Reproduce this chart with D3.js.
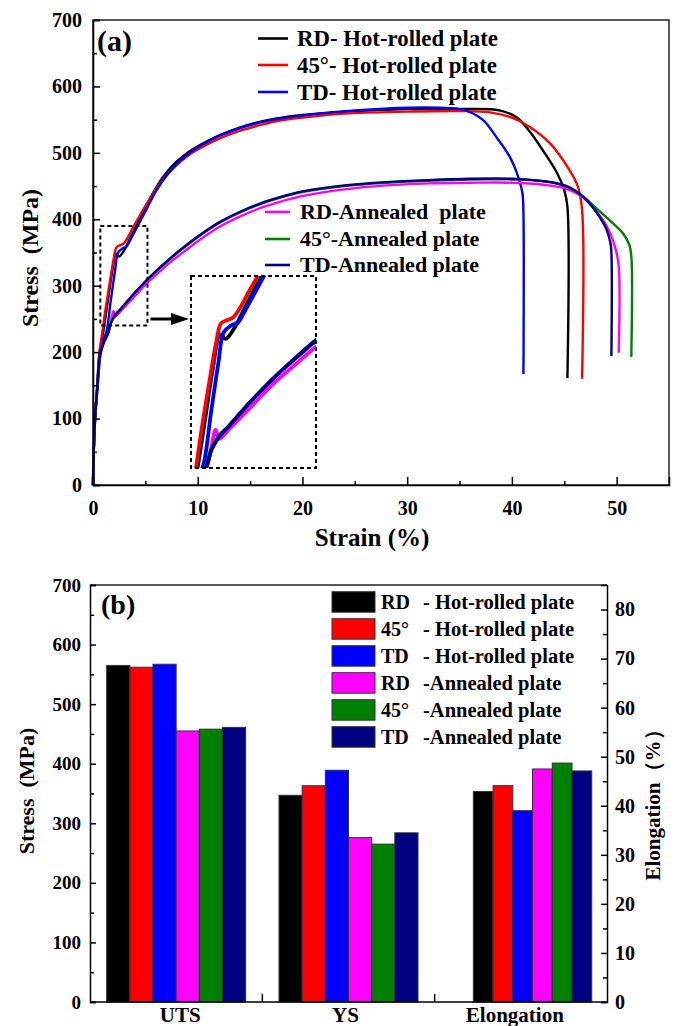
<!DOCTYPE html>
<html lang="en">
<head>
<meta charset="UTF-8">
<script src="https://cdn.jsdelivr.net/npm/d3@7"></script>
<title>Tensile properties</title>
<style>
  body { margin: 0; background: #fff; }
  text { font-family: "Liberation Serif", "Times New Roman", serif; font-weight: bold; fill: #000; }
</style>
</head>
<body>
<svg width="675" height="1026"></svg>
<script>
// ---------- data ----------
const strainTicks = [0, 10, 20, 30, 40, 50];
const stressTicks = [0, 100, 200, 300, 400, 500, 600, 700];
const elongTicks = [0, 10, 20, 30, 40, 50, 60, 70, 80];

const colors = ['#000000', '#ff0000', '#0000ff', '#ff00ff', '#008000', '#000080'];
const curveLabels = ['RD- Hot-rolled plate', '45°- Hot-rolled plate', 'TD- Hot-rolled plate',
                     'RD-Annealed  plate', '45°-Annealed plate', 'TD-Annealed plate'];
const barDirs = ['RD', '45°', 'TD', 'RD', '45°', 'TD'];
const barConds = ['- Hot-rolled plate', '- Hot-rolled plate', '- Hot-rolled plate',
                  '-Annealed plate', '-Annealed plate', '-Annealed plate'];

// stress-strain curves [strain %, stress MPa]
const rdHot = [[0,0],[0.05,40],[0.19,100],[0.41,150],[0.62,200],[0.95,228],[1.4,275],[1.8,318],[2.2,348],[2.5,344],[2.8,349],[3.1,357],[3.5,370],[4.0,386],[4.4,398],
  [5,418],[6,447],[7,470],[8,487],[9,500],[10,510],[12,526],[14,538],[16,547],[18,553],[20,557],[24,562],[30,566],[35,566],
  [38.8,564],[40.5,553],[41.7,532],[42.9,505],[44.3,470],[45.0,444],[45.3,419],[45.3,161]];
const d45Hot = [[0,0],[0.05,40],[0.19,100],[0.41,150],[0.62,200],[0.87,228],[1.2,265],[1.6,305],[1.95,338],[2.25,358],[2.6,361],[2.9,363],[3.3,372],[3.8,387],[4.3,401],
  [5,420],[6,445],[7,466],[8,482],[9,495],[10,505],[12,521],[14,533],[16,542],[18,549],[20,553],[24,559],[30,562],[35,563],
  [37.9,561],[40,553],[41.7,539],[43.6,515],[45.5,474],[46.3,449],[46.7,414],[46.7,160]];
const tdHot = [[0,0],[0.05,40],[0.2,98],[0.45,148],[0.7,195],[1.0,218],[1.3,232],[1.7,278],[2.1,322],[2.4,350],[2.8,356],[3.2,359],[3.5,367],[4.0,382],[4.6,400],
  [5.2,418],[6,442],[7,465],[8,483],[9,497],[10,508],[12,525],[14,537],[16,546],[18,552],[20,556],[23.6,562],[30,568],[33,568],
  [35.3,565],[37.2,550],[38.5,524],[39.8,494],[40.6,464],[41.0,440],[41.1,410],[41.1,167]];
const rdAnn = [[0,0],[0.05,40],[0.2,100],[0.42,150],[0.65,192],[1.0,212],[1.45,228],[1.7,245],[1.95,262],[2.15,254],[2.6,261],[3.2,271],[3.8,281],[4.5,293],[5.3,306],
  [6.5,323],[7.5,337],[8.5,349],[10,367],[12,388],[14,404],[16,417],[18,427],[20,435],[24,445],[28,451],[32,454],[36,455],[40,455],
  [43,452],[45,447],[46.5,436],[47.5,422],[48.5,403],[49.3,382],[49.9,355],[50.2,330],[50.2,199]];
const d45Ann = [[0,0],[0.05,40],[0.2,100],[0.42,150],[0.65,194],[1.0,214],[1.45,230],[1.7,244],[1.95,252],[2.2,258],[2.6,264],[3.2,275],[3.8,286],[4.5,298],[5.3,311],
  [6.5,328],[7.5,342],[8.5,355],[10,373],[12,394],[14,410],[16,423],[18,433],[20,441],[24,450],[28,455],[32,458],[36,460],[40,460],
  [42,459],[44.8,452],[46.5,438],[48.1,416],[49.5,396],[50.6,379],[51.2,362],[51.4,345],[51.4,193]];
const tdAnn = [[0,0],[0.05,40],[0.2,100],[0.42,150],[0.65,194],[1.0,214],[1.45,229],[1.7,243],[1.95,251],[2.2,257],[2.6,264],[3.2,275],[3.8,286],[4.5,298],[5.3,311],
  [6.5,329],[7.5,343],[8.5,356],[10,374],[12,395],[14,411],[16,424],[18,434],[20,442],[24,451],[28,456],[32,459],[36,461],[40,461],
  [42,459],[44,455],[45.5,448],[46.8,434],[48,412],[49.0,386],[49.4,365],[49.5,350],[49.5,194]];
const curves = [rdHot, d45Hot, tdHot, rdAnn, d45Ann, tdAnn];

// bar chart
const categories = ['UTS', 'YS', 'Elongation'];
const utsValues = [565, 562, 567, 455, 458, 461];
const ysValues = [347, 363, 389, 276, 265, 284];
const elongValues = [42.9, 44.1, 39.0, 47.5, 48.7, 47.1];

// ---------- layout ----------
const svg = d3.select('svg');

function styleAxis(g, size) {
  g.attr('font-family', null).attr('font-size', null);
  g.selectAll('text').style('font-size', size + 'px');
  g.selectAll('line').attr('stroke', '#000').attr('stroke-width', 1.5);
  g.select('.domain').attr('stroke', '#000').attr('stroke-width', 1.5);
}
function minorAxis(g, axis) {
  g.call(axis.tickFormat(''));
  g.select('.domain').remove();
  g.selectAll('line').attr('stroke', '#000').attr('stroke-width', 1.5);
}

// ===== panel (a) =====
const xA = d3.scaleLinear([0, 55], [93, 669]);
const yA = d3.scaleLinear([0, 700], [485, 20]);
const gA = svg.append('g');

gA.append('rect').attr('x', xA(0)).attr('y', yA(700)).attr('width', xA(55) - xA(0)).attr('height', yA(0) - yA(700))
  .attr('fill', 'none').attr('stroke', '#222').attr('stroke-width', 1.5);

const line = d3.line().x(d => xA(d[0])).y(d => yA(d[1])).curve(d3.curveCatmullRom.alpha(0.5));
gA.append('g').selectAll('path').data(curves).join('path')
  .attr('d', line).attr('fill', 'none').attr('stroke', (d, i) => colors[i]).attr('stroke-width', 2.4);

// zoom box + inset
const boxStrain = [0.7, 5.2], boxStress = [240, 390];
gA.append('rect').attr('x', xA(boxStrain[0])).attr('y', yA(boxStress[1]))
  .attr('width', xA(boxStrain[1]) - xA(boxStrain[0])).attr('height', yA(boxStress[0]) - yA(boxStress[1]))
  .attr('fill', 'none').attr('stroke', '#000').attr('stroke-width', 2).attr('stroke-dasharray', '4,3');

const inset = {x0: 191, x1: 316, y0: 468, y1: 276};
const xI = d3.scaleLinear([0.59, 7.5], [inset.x0, inset.x1]);
const yI = d3.scaleLinear([227.7, 400.7], [inset.y0, inset.y1]);
svg.append('defs').append('clipPath').attr('id', 'insetClip').append('rect')
  .attr('x', inset.x0).attr('y', inset.y1).attr('width', inset.x1 - inset.x0).attr('height', inset.y0 - inset.y1);
const lineI = d3.line().x(d => xI(d[0])).y(d => yI(d[1])).curve(d3.curveCatmullRom.alpha(0.5));
gA.append('g').attr('clip-path', 'url(#insetClip)').selectAll('path').data(curves).join('path')
  .attr('d', lineI).attr('fill', 'none').attr('stroke', (d, i) => colors[i]).attr('stroke-width', 3.8);
gA.append('rect').attr('x', inset.x0).attr('y', inset.y1).attr('width', inset.x1 - inset.x0).attr('height', inset.y0 - inset.y1)
  .attr('fill', 'none').attr('stroke', '#000').attr('stroke-width', 2).attr('stroke-dasharray', '4,3');

// arrow
const arrowY = 319;
gA.append('line').attr('x1', xA(boxStrain[1]) + 3).attr('x2', inset.x0 - 16).attr('y1', arrowY).attr('y2', arrowY)
  .attr('stroke', '#000').attr('stroke-width', 3);
gA.append('path').attr('d', `M${inset.x0 - 2},${arrowY} L${inset.x0 - 20},${arrowY - 6} L${inset.x0 - 20},${arrowY + 6} Z`).attr('fill', '#000');

// axes (a)
const axA_x = gA.append('g').attr('transform', `translate(0,${yA(0)})`)
  .call(d3.axisBottom(xA).tickValues(strainTicks).tickSize(-8).tickPadding(16).tickFormat(d3.format('d')));
styleAxis(axA_x, 20);
minorAxis(gA.append('g').attr('transform', `translate(0,${yA(0)})`), d3.axisBottom(xA).tickValues(d3.range(5, 55, 10)).tickSize(-4));
const axA_y = gA.append('g').attr('transform', `translate(${xA(0)},0)`)
  .call(d3.axisLeft(yA).tickValues(stressTicks).tickSize(-7).tickPadding(11));
styleAxis(axA_y, 20);
minorAxis(gA.append('g').attr('transform', `translate(${xA(0)},0)`), d3.axisLeft(yA).tickValues(d3.range(50, 700, 100)).tickSize(-4));

gA.append('text').attr('x', 372).attr('y', 546).attr('text-anchor', 'middle').style('font-size', '25px').text('Strain (%)');
gA.append('text').attr('transform', 'translate(38,258) rotate(-90)').attr('text-anchor', 'middle')
  .style('font-size', '24px').style('white-space', 'pre').text('Stress  (MPa)');
gA.append('text').attr('x', 97).attr('y', 51).style('font-size', '30px').text('(a)');

// legend (a)
const legA = [
  {x1: 258, x2: 288, tx: 297, ys: [38.5, 65, 92]},
  {x1: 265, x2: 290, tx: 300, ys: [212, 239, 265]}
];
curveLabels.forEach((lab, i) => {
  const L = legA[Math.floor(i / 3)], y = L.ys[i % 3];
  gA.append('line').attr('x1', L.x1).attr('x2', L.x2).attr('y1', y).attr('y2', y)
    .attr('stroke', colors[i]).attr('stroke-width', 2.6);
  gA.append('text').attr('x', L.tx).attr('y', y).attr('dy', '0.34em').style('font-size', i < 3 ? '22.8px' : '22px')
    .style('white-space', 'pre').text(lab);
});

// ===== panel (b) =====
const plotB = {left: 90, right: 607, top: 585, bottom: 1002};
const yB = d3.scaleLinear([0, 700], [plotB.bottom, plotB.top]);
const yE = d3.scaleLinear([0, 85], [plotB.bottom, plotB.top]);
const x0 = d3.scaleBand(categories, [plotB.left, plotB.right]);
const stressGroupW = 139, elongGroupW = 118.4, elongShift = 11.7;
const xStress = d3.scaleBand(d3.range(6), [0, stressGroupW]);
const xElong = d3.scaleBand(d3.range(6), [0, elongGroupW]);
const gB = svg.append('g');

const stressSets = [utsValues, ysValues];
stressSets.forEach((vals, c) => {
  const start = x0(categories[c]) + (x0.bandwidth() - stressGroupW) / 2;
  gB.append('g').selectAll('rect').data(vals).join('rect')
    .attr('x', (d, i) => start + xStress(i)).attr('width', xStress.bandwidth())
    .attr('y', d => yB(d)).attr('height', d => yB(0) - yB(d))
    .attr('fill', (d, i) => colors[i]).attr('stroke', '#333').attr('stroke-width', 1);
});
{
  const start = x0('Elongation') + (x0.bandwidth() - elongGroupW) / 2 + elongShift;
  gB.append('g').selectAll('rect').data(elongValues).join('rect')
    .attr('x', (d, i) => start + xElong(i)).attr('width', xElong.bandwidth())
    .attr('y', d => yE(d)).attr('height', d => yE(0) - yE(d))
    .attr('fill', (d, i) => colors[i]).attr('stroke', '#333').attr('stroke-width', 1);
}

// frame top
gB.append('line').attr('x1', plotB.left).attr('x2', plotB.right).attr('y1', plotB.top).attr('y2', plotB.top)
  .attr('stroke', '#222').attr('stroke-width', 1.5);

const axB_y = gB.append('g').attr('transform', `translate(${plotB.left},0)`)
  .call(d3.axisLeft(yB).tickValues(stressTicks).tickSize(-6).tickPadding(9));
styleAxis(axB_y, 19);
minorAxis(gB.append('g').attr('transform', `translate(${plotB.left},0)`), d3.axisLeft(yB).tickValues(d3.range(50, 700, 100)).tickSize(-4));
const axB_r = gB.append('g').attr('transform', `translate(${plotB.right},0)`)
  .call(d3.axisRight(yE).tickValues(elongTicks).tickSize(-6).tickPadding(8));
styleAxis(axB_r, 20);
minorAxis(gB.append('g').attr('transform', `translate(${plotB.right},0)`), d3.axisRight(yE).tickValues(d3.range(5, 85, 10)).tickSize(-4));

// bottom axis: line, separator ticks, category labels
gB.append('line').attr('x1', plotB.left).attr('x2', plotB.right).attr('y1', plotB.bottom).attr('y2', plotB.bottom)
  .attr('stroke', '#000').attr('stroke-width', 1.5);
gB.append('g').selectAll('line').data(categories.slice(1)).join('line')
  .attr('x1', d => x0(d)).attr('x2', d => x0(d)).attr('y1', plotB.bottom).attr('y2', plotB.bottom - 8)
  .attr('stroke', '#000').attr('stroke-width', 1.5);
const catOffsets = [4, -3, -6];
gB.append('g').selectAll('text').data(categories).join('text')
  .attr('x', (d, i) => x0(d) + x0.bandwidth() / 2 + catOffsets[i]).attr('y', 1022)
  .attr('text-anchor', 'middle').style('font-size', '21px').text(d => d);

gB.append('text').attr('transform', 'translate(34,791) rotate(-90)').attr('text-anchor', 'middle')
  .style('font-size', '22px').style('white-space', 'pre').text('Stress  (MPa)');
gB.append('text').attr('transform', 'translate(660,800) rotate(-90)').attr('text-anchor', 'middle')
  .style('font-size', '21px').text('Elongation（%）');
gB.append('text').attr('x', 101).attr('y', 614).style('font-size', '28px').text('(b)');

// legend (b)
const legB = {x: 332, w: 43, h: 20.5, y0: 591.7, step: 27, tx1: 381, tx2: 423};
barDirs.forEach((dir, i) => {
  const y = legB.y0 + i * legB.step;
  gB.append('rect').attr('x', legB.x).attr('y', y).attr('width', legB.w).attr('height', legB.h)
    .attr('fill', colors[i]).attr('stroke', '#333').attr('stroke-width', 1);
  gB.append('text').attr('x', legB.tx1).attr('y', y + legB.h / 2).attr('dy', '0.36em').style('font-size', '20px').text(dir);
  gB.append('text').attr('x', legB.tx2).attr('y', y + legB.h / 2).attr('dy', '0.36em').style('font-size', '20.5px').text(barConds[i]);
});
</script>
</body>
</html>
